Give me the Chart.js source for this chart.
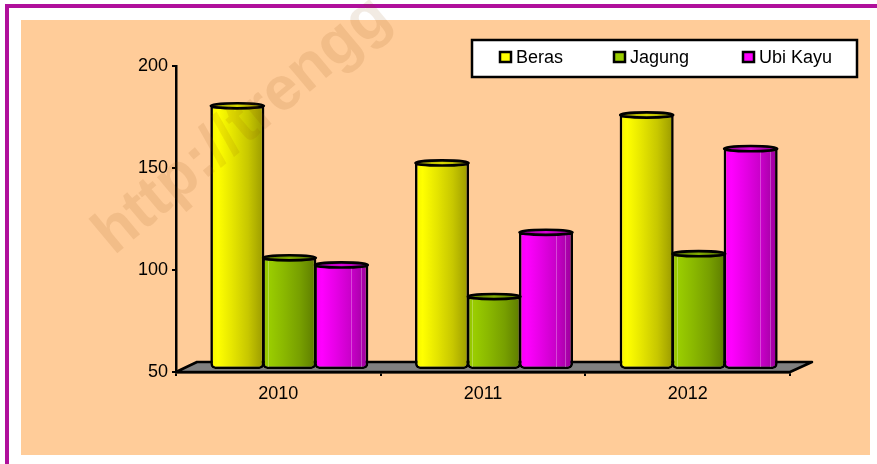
<!DOCTYPE html>
<html>
<head>
<meta charset="utf-8">
<script src="https://cdn.jsdelivr.net/npm/chart.js@4/dist/chart.umd.min.js"></script>
<style>
html,body{margin:0;padding:0;background:#fff;width:877px;height:464px;overflow:hidden}
#topline{position:absolute;left:5px;top:4px;width:872px;height:4px;background:#B0109B}
#leftline{position:absolute;left:5px;top:4px;width:4px;height:460px;background:#B0109B}
#panel{position:absolute;left:21px;top:20px;width:849px;height:435px;background:#FFCC99}
canvas{position:absolute;left:0;top:0}
</style>
</head>
<body>
<div id="topline"></div><div id="leftline"></div><div id="panel"></div>
<canvas id="c" width="877" height="464"></canvas>
<script>
const categories = ['2010', '2011', '2012'];
const beras = [179.5, 151.5, 175];
const jagung = [105, 86, 107];
const ubiKayu = [101.5, 117.5, 158.5];
const seriesNames = ['Beras', 'Jagung', 'Ubi Kayu'];
const seriesColors = ['#FFFF00', '#99CC00', '#FF00FF'];
const yTicks = [50, 100, 150, 200];
const watermark = 'http://trengg';

const FONT = '"Liberation Sans", Arial, sans-serif';
const DEPTH_X = 11, DEPTH_Y = 2;
const SHEEN = [[], [0.1], [0.68, 0.86]];

function shade(hex, f) {
  const n = parseInt(hex.slice(1), 16);
  const c = [n >> 16, (n >> 8) & 255, n & 255].map(v => Math.round(v * f));
  return 'rgb(' + c.join(',') + ')';
}
function cylGradient(ctx, x0, x1, hex) {
  const g = ctx.createLinearGradient(x0, 0, x1, 0);
  g.addColorStop(0, shade(hex, 0.96));
  g.addColorStop(0.14, shade(hex, 1));
  g.addColorStop(0.4, shade(hex, 0.9));
  g.addColorStop(0.7, shade(hex, 0.78));
  g.addColorStop(1, shade(hex, 0.6));
  return g;
}

const cylinderPlugin = {
  id: 'cylinder',
  beforeDatasetsDraw(chart) {
    const { ctx } = chart;
    const x = chart.scales.x, y = chart.scales.y;
    const b = y.getPixelForValue(50);
    ctx.save();
    ctx.beginPath();
    ctx.moveTo(x.left, b);
    ctx.lineTo(x.left + 21, b - 10);
    ctx.lineTo(x.right + 22, b - 10);
    ctx.lineTo(x.right, b);
    ctx.closePath();
    ctx.fillStyle = '#808080';
    ctx.fill();
    ctx.lineWidth = 2.5;
    ctx.strokeStyle = '#000';
    ctx.lineJoin = 'round';
    ctx.stroke();
    ctx.restore();
    ctx.save();
    ctx.translate(DEPTH_X, -DEPTH_Y);
  },
  beforeDatasetDraw(chart, args) {
    const hex = seriesColors[args.index];
    args.meta.data.forEach(el => {
      const w = el.width;
      el.options = Object.assign({}, el.options, {
        backgroundColor: cylGradient(chart.ctx, el.x - w / 2, el.x + w / 2, hex)
      });
    });
  },
  afterDatasetDraw(chart, args) {
    const { ctx } = chart;
    const hex = seriesColors[args.index];
    args.meta.data.forEach(el => {
      const w = el.width;
      ctx.save();
      ctx.strokeStyle = 'rgba(255,255,255,0.28)';
      ctx.lineWidth = 1;
      SHEEN[args.index].forEach(p => {
        const sx = Math.round(el.x - w / 2 + p * w) + 0.5;
        ctx.beginPath();
        ctx.moveTo(sx, el.y + 3);
        ctx.lineTo(sx, el.base - 2);
        ctx.stroke();
      });
      ctx.beginPath();
      ctx.ellipse(el.x, el.y, w / 2 - 0.5, 2.6, 0, 0, Math.PI * 2);
      const g = ctx.createLinearGradient(el.x - w / 2, 0, el.x + w / 2, 0);
      g.addColorStop(0, shade(hex, 0.55));
      g.addColorStop(0.5, shade(hex, 0.85));
      g.addColorStop(1, shade(hex, 0.55));
      ctx.fillStyle = g;
      ctx.fill();
      ctx.lineWidth = 2.6;
      ctx.strokeStyle = '#000';
      ctx.stroke();
      ctx.restore();
    });
  },
  afterDatasetsDraw(chart) {
    chart.ctx.restore();
  },
  afterDraw(chart) {
    const { ctx } = chart;
    // legend
    const xs = [499, 613, 742];
    ctx.save();
    ctx.fillStyle = '#fff';
    ctx.strokeStyle = '#000';
    ctx.lineWidth = 2.5;
    ctx.fillRect(472, 40, 385, 37);
    ctx.strokeRect(472, 40, 385, 37);
    ctx.font = '18px ' + FONT;
    ctx.textBaseline = 'middle';
    ctx.textAlign = 'left';
    seriesNames.forEach((name, i) => {
      ctx.fillStyle = seriesColors[i];
      ctx.lineWidth = 2.5;
      ctx.fillRect(xs[i] + 1, 52, 11, 10);
      ctx.strokeRect(xs[i] + 1, 52, 11, 10);
      ctx.fillStyle = '#000';
      ctx.fillText(name, xs[i] + 17, 58);
    });
    // watermark
    ctx.translate(114, 256);
    ctx.rotate(-40 * Math.PI / 180);
    ctx.font = 'bold 62px ' + FONT;
    ctx.textBaseline = 'alphabetic';
    ctx.fillStyle = 'rgba(140,70,0,0.11)';
    ctx.fillText(watermark, 0, 0);
    ctx.restore();
  }
};

const mk = (label, data, i) => ({
  label, data,
  base: 50,
  backgroundColor: seriesColors[i],
  borderColor: '#000',
  borderWidth: 2.6,
  borderSkipped: false,
  borderRadius: { topLeft: 0, topRight: 0, bottomLeft: 5, bottomRight: 5 },
  clip: false
});

new Chart(document.getElementById('c'), {
  type: 'bar',
  data: {
    labels: categories,
    datasets: [mk(seriesNames[0], beras, 0), mk(seriesNames[1], jagung, 1), mk(seriesNames[2], ubiKayu, 2)]
  },
  plugins: [cylinderPlugin],
  options: {
    responsive: false,
    animation: false,
    events: [],
    layout: { padding: { top: 66, right: 87, left: 0, bottom: 0 } },
    plugins: { legend: { display: false }, tooltip: { enabled: false }, title: { display: false } },
    datasets: { bar: { categoryPercentage: 0.762, barPercentage: 1.04 } },
    scales: {
      x: {
        offset: true,
        afterFit(s) { s.height = 92; },
        border: { display: true, color: '#000', width: 2.5 },
        grid: { display: true, drawOnChartArea: false, drawTicks: true, tickLength: 4, color: '#000', lineWidth: 2 },
        ticks: { color: '#000', font: { family: FONT, size: 18 }, padding: 7, maxRotation: 0 }
      },
      y: {
        min: 50, max: 200,
        afterFit(s) { s.width = 176; },
        afterBuildTicks(s) { s.ticks = yTicks.map(v => ({ value: v })); },
        border: { display: true, color: '#000', width: 2.5 },
        grid: { display: true, drawOnChartArea: false, drawTicks: true, tickLength: 4, color: '#000', lineWidth: 2 },
        ticks: { color: '#000', font: { family: FONT, size: 18 }, padding: 4 }
      }
    }
  }
});
</script>
</body>
</html>
